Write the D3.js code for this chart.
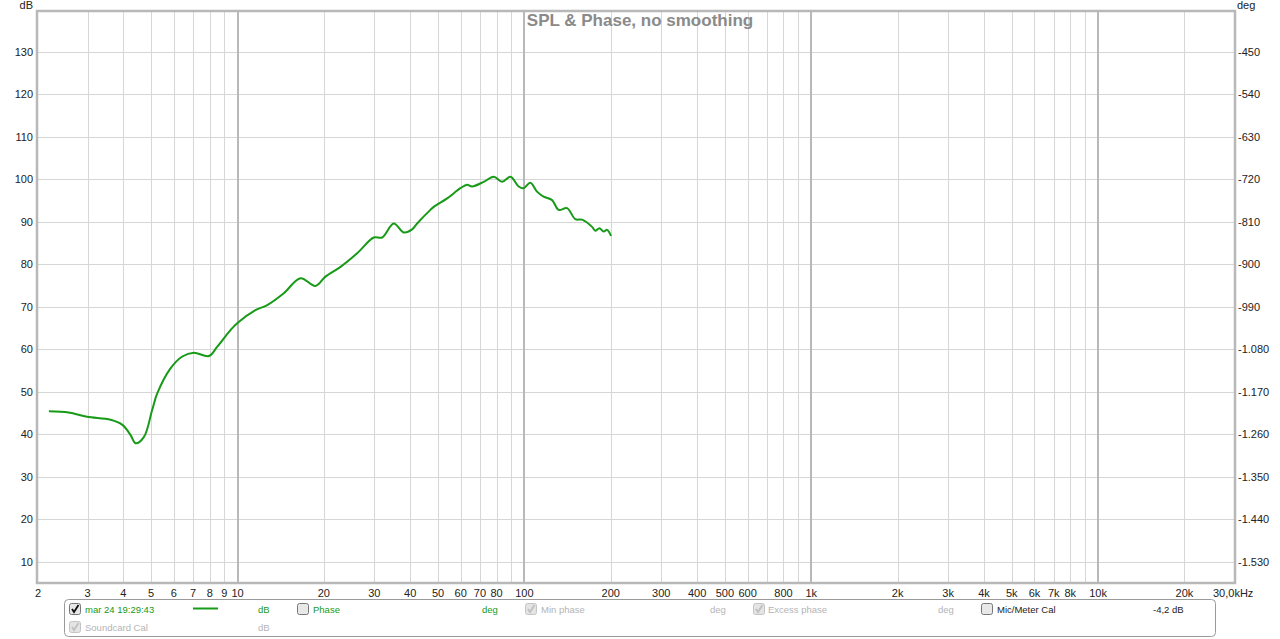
<!DOCTYPE html>
<html><head><meta charset="utf-8">
<script src="https://cdn.jsdelivr.net/npm/d3@7/dist/d3.min.js"></script>
<style>body{margin:0;background:#fff;}svg{display:block;font-family:"Liberation Sans",Arial,sans-serif;}</style>
</head><body><svg id="c" width="1280" height="639"></svg>
<script>
const freqs = [2.20,2.58,2.99,3.61,3.97,4.24,4.41,4.72,5.04,5.25,5.84,6.42,7.04,7.94,8.50,9.45,10.0,11.55,12.69,14.50,16.58,18.70,20.26,22.86,26.13,29.85,31.93,35.04,37.96,40.62,42.28,47.04,48.31,53.8,59.84,63.13,65.73,72.16,78.17,83.61,89.40,95.5,99.4,104.9,110.7,116.7,124.9,131.7,140.8,150.6,158.9,172.2,176.8,182.5,188.9,194.1,200.5];
const spl   = [45.4,45.1,44.1,43.4,42.2,39.8,37.9,39.4,45.7,49.6,55.5,58.3,59.2,58.4,60.6,64.5,66.2,69.2,70.4,73.2,76.7,74.9,77.1,79.4,82.6,86.3,86.3,89.6,87.5,88.2,89.6,92.8,93.5,95.5,97.9,98.7,98.3,99.4,100.6,99.4,100.6,98.3,97.9,99.2,97.1,95.9,95.1,92.8,93.2,90.6,90.5,88.8,87.9,88.5,87.7,88.1,86.7];
const dbTicks = [10,20,30,40,50,60,70,80,90,100,110,120,130];
const degLabels = ["-1.530","-1.440","-1.350","-1.260","-1.170","-1.080","-990","-900","-810","-720","-630","-540","-450"];
const gridFreqs = [2,3,4,5,6,7,8,9,10,20,30,40,50,60,70,80,90,100,200,300,400,500,600,700,800,900,1000,2000,3000,4000,5000,6000,7000,8000,9000,10000,20000];
const decadeFreqs = [10,100,1000,10000];
const freqTickVals = [2,3,4,5,6,7,8,9,10,20,30,40,50,60,70,80,100,200,300,400,500,600,800,1000,2000,3000,4000,5000,6000,7000,8000,10000,20000,30000];
const freqTickLabels = ["2","3","4","5","6","7","8","9","10","20","30","40","50","60","70","80","100","200","300","400","500","600","800","1k","2k","3k","4k","5k","6k","7k","8k","10k","20k","30,0kHz"];

const svg = d3.select("#c");
const L=37, R=1235, T=11, B=583;
const x = d3.scaleLog().domain([2,30000]).range([L,R]);
const y = d3.scaleLinear().domain([5,139.6]).range([B,T]);
const green = "#179a17";

// grid
const g = svg.append("g");
g.selectAll(".hg").data(dbTicks).join("line")
 .attr("x1",L).attr("x2",R).attr("y1",d=>Math.round(y(d))+0.5).attr("y2",d=>Math.round(y(d))+0.5)
 .attr("stroke","#d6d6d6").attr("stroke-width",1);
g.selectAll(".vg").data(gridFreqs.filter(f=>!decadeFreqs.includes(f)&&f>2)).join("line")
 .attr("y1",T).attr("y2",B).attr("x1",d=>Math.round(x(d))+0.5).attr("x2",d=>Math.round(x(d))+0.5)
 .attr("stroke","#d6d6d6").attr("stroke-width",1);
g.selectAll(".dg").data(decadeFreqs).join("line")
 .attr("y1",T).attr("y2",B).attr("x1",d=>Math.round(x(d))).attr("x2",d=>Math.round(x(d)))
 .attr("stroke","#b8b8b8").attr("stroke-width",2);
// border
svg.append("rect").attr("x",L).attr("y",T).attr("width",R-L).attr("height",B-T)
 .attr("fill","none").attr("stroke","#b8b8b8").attr("stroke-width",2.5);

// title
svg.append("text").attr("x",640).attr("y",26).attr("text-anchor","middle")
 .attr("font-size",17).attr("font-weight","bold").attr("fill","#8a8a8a").text("SPL & Phase, no smoothing");

// left axis
svg.append("g").selectAll("text").data(dbTicks).join("text")
 .attr("x",33).attr("y",d=>y(d)+4).attr("text-anchor","end").attr("font-size",11).attr("fill","#222").text(d=>d);
svg.append("text").attr("x",33).attr("y",9).attr("text-anchor","end").attr("font-size",11).attr("fill","#222").text("dB");
// right axis
svg.append("g").selectAll("text").data(dbTicks).join("text")
 .attr("x",1238).attr("y",d=>y(d)+4).attr("font-size",11).attr("fill","#222").text((d,i)=>degLabels[i]);
svg.append("text").attr("x",1237).attr("y",9).attr("font-size",11).attr("fill","#222").text("deg");
// bottom axis
svg.append("g").selectAll("text").data(freqTickVals).join("text")
 .attr("x",(d,i)=> i===freqTickVals.length-1 ? x(d)-22 : x(d)+ (d===2?1:0))
 .attr("y",597).attr("text-anchor",(d,i)=> i===freqTickVals.length-1 ? "start":"middle")
 .attr("font-size",11).attr("fill","#222").text((d,i)=>freqTickLabels[i]);

// curve
const line = d3.line().x((d,i)=>x(freqs[i])).y(d=>y(d)).curve(d3.curveCatmullRom.alpha(0.5));
svg.append("path").datum(spl).attr("d",line).attr("fill","none").attr("stroke",green).attr("stroke-width",2);

// legend
const lg = svg.append("g");
lg.append("rect").attr("x",64.5).attr("y",599.5).attr("width",1151).attr("height",37).attr("rx",4)
 .attr("fill","#fff").attr("stroke","#9a9a9a");
function checkbox(cx,cy,checked,enabled){
  const c = lg.append("g");
  c.append("rect").attr("x",cx+0.5).attr("y",cy+0.5).attr("width",11).attr("height",11).attr("rx",2)
   .attr("fill",enabled?"#e8e8e8":"#e4e4e4").attr("stroke",enabled?"#777":"#c4c4c4");
  if(checked){
    c.append("path").attr("d",`M${cx+3},${cy+6} L${cx+5},${cy+9} L${cx+9.5},${cy+2}`)
     .attr("fill","none").attr("stroke",enabled?"#111":"#c0c0c0").attr("stroke-width",1.8);
  }
}
function txt(tx,ty,s,col){lg.append("text").attr("x",tx).attr("y",ty).attr("font-size",9.5).attr("fill",col).text(s);}
const grey="#b4b4b4";
checkbox(69,603,true,true); txt(85,613,"mar 24 19:29:43",green);
lg.append("line").attr("x1",193).attr("x2",218).attr("y1",608.5).attr("y2",608.5).attr("stroke",green).attr("stroke-width",2);
txt(258,613,"dB",green);
checkbox(297,603,false,true); txt(313,613,"Phase",green); txt(482,613,"deg",green);
checkbox(525,603,true,false); txt(541,613,"Min phase",grey); txt(710,613,"deg",grey);
checkbox(753,603,true,false); txt(768,613,"Excess phase",grey); txt(938,613,"deg",grey);
checkbox(981,603,false,true); txt(997,613,"Mic/Meter Cal","#222"); txt(1153,613,"-4,2 dB","#222");
checkbox(69,621,true,false); txt(85,631,"Soundcard Cal",grey); txt(258,631,"dB",grey);
</script></body></html>
